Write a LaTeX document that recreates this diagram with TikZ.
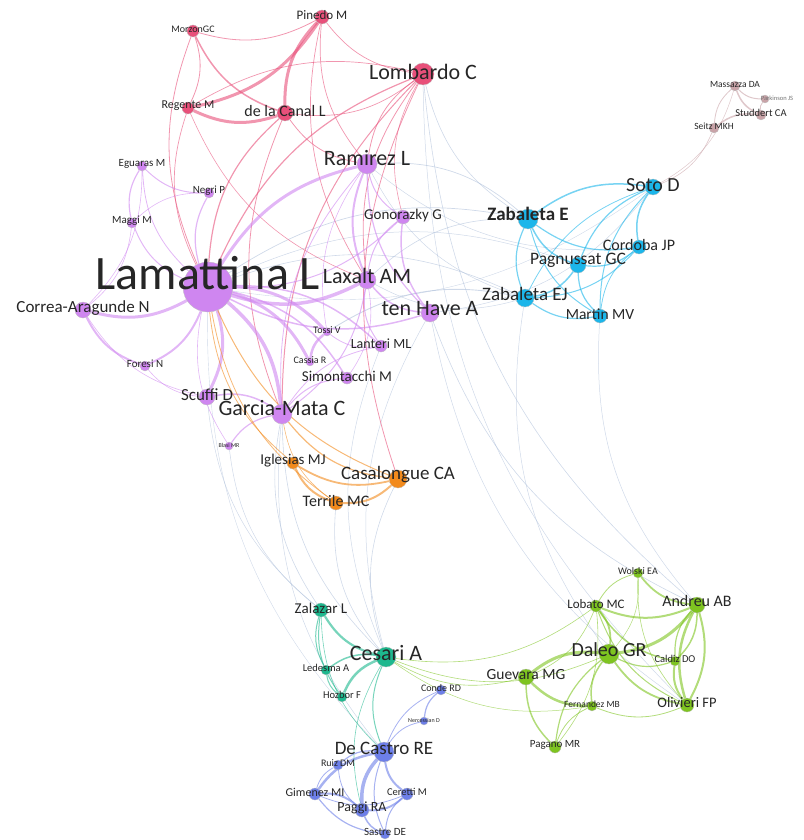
\documentclass[tikz,border=0pt]{standalone}
\usepackage{fontspec}
\setmainfont{Carlito}
\usetikzlibrary{backgrounds}
\definecolor{pinkc}{HTML}{E8507A}
\definecolor{purc}{HTML}{CF86F0}
\definecolor{orac}{HTML}{F28A1C}
\definecolor{cyac}{HTML}{1CB6EA}
\definecolor{mauc}{HTML}{C9A3A8}
\definecolor{teac}{HTML}{1DB88E}
\definecolor{bluc}{HTML}{6D7FE8}
\definecolor{grec}{HTML}{7EC420}
\definecolor{linkc}{HTML}{AFC0DA}
\definecolor{txtc}{HTML}{262626}
\tikzset{
  dot/.style={circle, inner sep=0pt, draw=black!25, line width=0.3pt},
  lbl/.style={inner sep=0pt, text=txtc},
  lnk/.style={draw=#1, draw opacity=0.6, bend right=22},
}
% author: [label shift]{name}{x,y}{diameter}{colour}{font size}{label}
\newcommand{\au}[7][2]{%
  \node[dot, fill=#5, minimum size=#4pt] (#2) at (#3) {};
  \node[lbl, font=\fontsize{#6}{#6}\selectfont] (#2-l) at ([yshift=#1pt]#2) {#7};
}
\begin{document}
\begin{tikzpicture}[x=1pt, y=-1pt]
\useasboundingbox (0,0) rectangle (803,840);
% pink group
\au{mor}{193,31}{12}{pinkc}{10}{MorzonGC}
\au{pin}{322,17}{14}{pinkc}{13}{Pinedo M}
\au{lom}{423,74}{22}{pinkc}{22}{Lombardo C}
\au{reg}{188,108}{12}{pinkc}{12}{Regente M}
\au{dlc}{285,113}{16}{pinkc}{16}{de la Canal L}
% purple group
\au[14]{lam}{208,287}{50}{purc}{48}{Lamattina L}
\au[6]{ram}{367,164}{20}{purc}{22}{Ramirez L}
\au{egu}{142,166}{10}{purc}{11}{Eguaras M}
\au{neg}{209,193}{10}{purc}{11}{Negri P}
\au{mag}{132,223}{10}{purc}{11}{Maggi M}
\au{gon}{403,217}{14}{purc}{15}{Gonorazky G}
\au[4]{lax}{367,280}{18}{purc}{22}{Laxalt AM}
\au{cra}{83,310}{16}{purc}{17}{Correa-Aragunde N}
\au[4]{tha}{430,313}{18}{purc}{22}{ten Have A}
\au{tos}{327,332}{8}{purc}{10}{Tossi V}
\au{lan}{381,346}{12}{purc}{14}{Lanteri ML}
\au{cass}{310,362}{8}{purc}{10}{Cassia R}
\au{fre}{145,366}{10}{purc}{11}{Foresi N}
\au{sim}{347,378}{12}{purc}{15}{Simontacchi M}
\au{scu}{207,397}{16}{purc}{17}{Scuffi D}
\au[6]{gmc}{282,414}{20}{purc}{22}{Garcia-Mata C}
\au[1]{bla}{229,446}{8}{purc}{6}{Blasi MR}
% orange group
\au{igl}{293,463}{12}{orac}{15}{Iglesias MJ}
\au[4]{cas}{398,479}{18}{orac}{19}{Casalongue CA}
\au{ter}{336,503}{14}{orac}{16}{Terrile MC}
% cyan group
\au{sot}{653,187}{16}{cyac}{20}{Soto D}
\au[5]{zae}{528,219}{20}{cyac}{19}{\textbf{Zabaleta E}}
\au{cor}{639,247}{14}{cyac}{16}{Cordoba JP}
\au[5]{pag}{578,265}{16}{cyac}{17.5}{Pagnussat GC}
\au[4]{zej}{525,298}{18}{cyac}{19}{Zabaleta EJ}
\au{mar}{600,316}{14}{cyac}{15.5}{Martin MV}
% mauve group
\au{mas}{735,86}{10}{mauc}{9.5}{Massazza DA}
\node[dot, fill=mauc, minimum size=8pt] (par) at (765,99) {};
\node[lbl, font=\fontsize{6.5}{6.5}\selectfont, text=black!55] (par-l) at (777,98) {Parkinson JS};
\au{stu}{761,115}{10}{mauc}{10.5}{Studdert CA}
\au{sei}{714,128}{10}{mauc}{9.5}{Seitz MKH}
% teal group
\au{zal}{321,610}{14}{teac}{15}{Zalazar L}
\au[4]{ces}{386,657}{20}{teac}{22}{Cesari A}
\au{led}{326,670}{10}{teac}{10.5}{Ledesma A}
\au{hoz}{342,697}{10}{teac}{10.5}{Hozbor F}
% blue group
\au{con}{441,690}{10}{bluc}{10}{Conde RD}
\au[1]{ner}{424,721}{8}{bluc}{6}{Nercessian D}
\au[4]{dec}{384,752}{20}{bluc}{19}{De Castro RE}
\au{rui}{338,765}{10}{bluc}{10}{Ruiz DM}
\au{gim}{315,794}{12}{bluc}{12}{Gimenez MI}
\au{cer}{407,794}{12}{bluc}{10.5}{Ceretti M}
\au{pgi}{362,810}{14}{bluc}{14}{Paggi RA}
\au{sas}{385,834}{10}{bluc}{11}{Sastre DE}
% green group
\au{wol}{638,573}{10}{grec}{10}{Wolski EA}
\au{lob}{596,606}{12}{grec}{13}{Lobato MC}
\au[4]{anr}{697,605}{16}{grec}{16}{Andreu AB}
\au[4]{dal}{609,654}{20}{grec}{20}{Daleo GR}
\au{cal}{675,661}{10}{grec}{10.5}{Caldiz DO}
\au{gue}{526,677}{16}{grec}{15.5}{Guevara MG}
\au{fer}{592,706}{10}{grec}{9.5}{Fernandez MB}
\au{oli}{687,705}{14}{grec}{14.5}{Olivieri FP}
\au{pgn}{555,747}{12}{grec}{11}{Pagano MR}
\begin{scope}[on background layer]
  % links between groups
  \foreach \a/\b/\w in {zae/lam/0.7, zae/ram/0.7, zae/lax/0.6, zej/tos/0.9, zej/lam/0.6,
      pag/lam/0.5, lom/zae/0.6, lom/anr/0.6, lom/oli/0.5, tha/anr/0.6, tha/oli/0.5,
      mar/anr/0.5, zej/dal/0.5, gmc/zal/0.6, bla/zal/0.5, scu/zal/0.5, gmc/ces/0.6,
      ter/ces/0.6, cas/ces/0.6, lan/ces/0.5, tha/ces/0.5, gmc/dec/0.5, lam/dec/0.4,
      ram/cor/0.5, ram/zej/0.5, lax/zej/0.5, tha/sot/0.5, lam/sot/0.4}
    \draw[lnk=linkc, line width=\w pt] (\a) to (\b);
  % pink
  \foreach \a/\b/\w in {reg/pin/3, pin/dlc/3, reg/dlc/3, mor/dlc/1.5, mor/pin/0.8,
      reg/mor/0.8, pin/lom/0.7, lom/reg/0.7, dlc/lom/0.7, mor/lam/0.8, dlc/lam/1.2,
      lom/lam/1.2, lom/gmc/1, lom/lax/0.8, lom/ram/0.8, pin/ram/0.7, pin/lax/0.7,
      dlc/ram/0.8, dlc/gmc/0.8, reg/lam/0.7, lom/cas/0.8, lom/gon/0.6, reg/lax/0.6}
    \draw[lnk=pinkc, line width=\w pt] (\a) to (\b);
  % purple
  \foreach \a/\b/\w in {lam/lax/3.5, ram/lam/3, gmc/lam/3.5, tos/lam/3, cass/lam/3,
      scu/lam/3, cra/lam/3, cra/fre/2, fre/lam/2, tos/cass/2.5, lam/tha/1.5, lan/lam/1.5,
      sim/lam/1.5, egu/lam/0.8, neg/lam/1.2, mag/lam/1, lam/gon/1, egu/neg/1, egu/mag/1.2,
      cra/egu/0.6, cra/mag/0.6, cra/scu/0.6, fre/scu/0.6, ram/lax/2, ram/gon/1, ram/tha/1.2,
      gon/tha/1.5, gon/lax/1, lax/tha/1.5, lax/lan/1, sim/gmc/1, lan/gmc/0.8, gmc/bla/1.2,
      gmc/scu/1.5, gmc/lax/1, ram/gmc/0.8, lam/bla/0.6, tos/lan/0.8, sim/lax/0.6,
      ram/tos/0.6, neg/mag/0.6}
    \draw[lnk=purc, line width=\w pt] (\a) to (\b);
  % orange
  \foreach \a/\b/\w in {igl/cas/1.8, igl/ter/2, ter/cas/2, gmc/cas/1.2, lam/cas/1,
      lam/igl/0.8, lam/ter/0.8, gmc/ter/0.6}
    \draw[lnk=orac, line width=\w pt] (\a) to (\b);
  % cyan
  \foreach \a/\b/\w in {sot/zae/1.5, sot/cor/1.5, sot/pag/1.2, sot/mar/1, zae/pag/1.5,
      zae/cor/1.2, zae/mar/1, zae/zej/1.2, zej/pag/1.5, zej/cor/1, zej/mar/1.2,
      pag/cor/1.2, pag/mar/1.2, cor/mar/0.8, sot/zej/0.8}
    \draw[lnk=cyac, line width=\w pt] (\a) to (\b);
  % mauve
  \foreach \a/\b/\w in {mas/stu/1.5, mas/par/1, mas/sei/0.8, stu/sei/1.5, par/stu/0.8,
      sot/sei/0.6, sot/mas/0.5}
    \draw[lnk=mauc, line width=\w pt] (\a) to (\b);
  % teal
  \foreach \a/\b/\w in {zal/ces/2.2, zal/led/1, zal/hoz/1, ces/led/1.5, ces/hoz/2.5,
      led/hoz/1, ces/dec/1, zal/dec/0.6, ces/pgi/0.6}
    \draw[lnk=teac, line width=\w pt] (\a) to (\b);
  % blue
  \foreach \a/\b/\w in {dec/pgi/3.5, dec/gim/2.5, pgi/gim/2, pgi/cer/2, dec/cer/2,
      dec/rui/1.2, gim/sas/1.2, pgi/sas/1.5, cer/sas/1, rui/gim/0.8, rui/pgi/0.8,
      dec/sas/1, con/ner/1.2, con/dec/0.8, ner/dec/0.8, gim/cer/0.8}
    \draw[lnk=bluc, line width=\w pt] (\a) to (\b);
  % green
  \foreach \a/\b/\w in {dal/gue/3, dal/anr/3, dal/lob/1.8, dal/oli/1.8, dal/cal/1.2,
      dal/fer/1.5, dal/pgn/1.2, gue/fer/2.5, gue/pgn/1.5, fer/pgn/0.8, lob/anr/2,
      lob/cal/1.5, lob/oli/1, wol/anr/1.8, wol/lob/0.8, anr/oli/2.5, oli/anr/2,
      anr/cal/1.2, cal/oli/2, fer/oli/0.8, gue/lob/0.6, pgn/lob/0.6, wol/oli/0.6,
      dal/wol/0.5, ces/lob/0.6, ces/dal/0.6, ces/gue/0.6, ces/fer/0.5, cal/anr/1.5}
    \draw[lnk=grec, line width=\w pt] (\a) to (\b);
\end{scope}
\end{tikzpicture}
\end{document}
